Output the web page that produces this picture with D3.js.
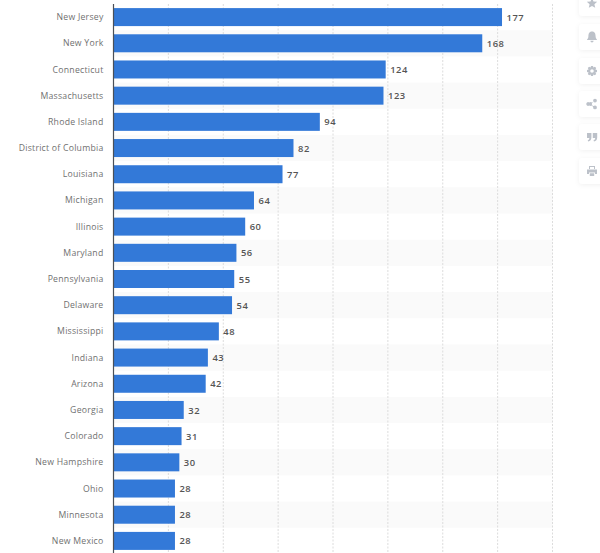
<!DOCTYPE html>
<html>
<head>
<meta charset="utf-8">
<script src="https://cdnjs.cloudflare.com/ajax/libs/d3/7.8.5/d3.min.js"></script>
<style>
  html, body { margin: 0; padding: 0; background: #fff; }
  svg { display: block; font-family: "Open Sans", sans-serif; }
  .label { font-size: 8.7px; fill: #707070; letter-spacing: 0.24px; }
  .value { font-size: 9.4px; font-weight: 600; fill: #555; letter-spacing: 0.55px; }
  .grid line { stroke: #dcdcdc; stroke-dasharray: 2 1.5; stroke-width: 1; }
</style>
</head>
<body>
<div id="chart"></div>
<script>
const states = ["New Jersey", "New York", "Connecticut", "Massachusetts", "Rhode Island",
  "District of Columbia", "Louisiana", "Michigan", "Illinois", "Maryland", "Pennsylvania",
  "Delaware", "Mississippi", "Indiana", "Arizona", "Georgia", "Colorado", "New Hampshire",
  "Ohio", "Minnesota", "New Mexico"];
const values = [177, 168, 124, 123, 94, 82, 77, 64, 60, 56, 55, 54, 48, 43, 42, 32, 31, 30, 28, 28, 28];
const xTicks = [0, 25, 50, 75, 100, 125, 150, 175, 200];

const width = 600, height = 553;
const margin = { top: 4, right: 47.5, bottom: -1, left: 113.5 };

const svg = d3.select("#chart").append("svg")
  .attr("width", width)
  .attr("height", height)
  .attr("viewBox", [0, 0, width, height]);

const x = d3.scaleLinear().domain([0, 200]).range([margin.left, width - margin.right]);
const y = d3.scaleBand().domain(states).range([margin.top, height - margin.bottom]).paddingInner(0).paddingOuter(0);
const barHeight = 18;

// every second row gets a faint stripe
svg.append("g")
  .selectAll("rect")
  .data(states.filter((d, i) => i % 2 === 1))
  .join("rect")
  .attr("x", x(0))
  .attr("y", (d) => y(d))
  .attr("width", x(200) - x(0))
  .attr("height", y.bandwidth())
  .attr("fill", "#fafafa");

svg.append("g")
  .attr("class", "grid")
  .selectAll("line")
  .data(xTicks.slice(1))
  .join("line")
  .attr("x1", (d) => x(d))
  .attr("x2", (d) => x(d))
  .attr("y1", margin.top)
  .attr("y2", height);

svg.append("g")
  .selectAll("rect")
  .data(values)
  .join("rect")
  .attr("x", x(0))
  .attr("y", (d, i) => y(states[i]) + (y.bandwidth() - barHeight) / 2)
  .attr("width", (d) => x(d) - x(0))
  .attr("height", barHeight)
  .attr("fill", "#3379d8");

svg.append("line")
  .attr("x1", x(0))
  .attr("x2", x(0))
  .attr("y1", margin.top)
  .attr("y2", height)
  .attr("stroke", "#4a4f57")
  .attr("stroke-width", 1.2);

svg.append("g")
  .selectAll("text")
  .data(states)
  .join("text")
  .attr("class", "label")
  .attr("x", 103.5)
  .attr("y", (d) => y(d) + y.bandwidth() / 2)
  .attr("dy", "0.35em")
  .attr("text-anchor", "end")
  .text((d) => d);

svg.append("g")
  .selectAll("text")
  .data(values)
  .join("text")
  .attr("class", "value")
  .attr("x", (d) => x(d) + 4.5)
  .attr("y", (d, i) => y(states[i]) + y.bandwidth() / 2)
  .attr("dy", "0.38em")
  .text((d) => d);

// side toolbar, cropped by the window edge
const toolbarTops = [-10, 24, 58, 91, 124, 158];
const icons = [
  "M0-5 1.5-1.6 5.2-1.2 2.4 1.2 3.2 4.8 0 3 -3.2 4.8 -2.4 1.2 -5.2-1.2 -1.5-1.6Z",
  "M0-5.5C-3-5.5-3.6-3-3.6-.5-3.6 1.5-5 2-5 3H5C5 2 3.6 1.5 3.6-.5 3.6-3 3-5.5 0-5.5ZM-1.6 3.8A1.6 1.6 0 0 0 1.6 3.8Z",
  "M-1-5H1L1.4-3.4 2.9-4.2 4.2-2.9 3.4-1.4 5-1V1L3.4 1.4 4.2 2.9 2.9 4.2 1.4 3.4 1 5H-1L-1.4 3.4-2.9 4.2-4.2 2.9-3.4 1.4-5 1V-1L-3.4-1.4-4.2-2.9-2.9-4.2-1.4-3.4ZM0-1.8A1.8 1.8 0 1 0 0 1.8 1.8 1.8 0 1 0 0-1.8Z",
  "M-2.8-1.6A1.9 1.9 0 1 1-2.8 1.6 1.9 1.9 0 1 1-2.8-1.6ZM3-5.3A1.9 1.9 0 1 1 3-1.5 1.9 1.9 0 1 1 3-5.3ZM3 1.5A1.9 1.9 0 1 1 3 5.3 1.9 1.9 0 1 1 3 1.5ZM-2.8-.6 2.8-3.6 3.2-2.9-2.4.1ZM-2.4-.1 3.2 2.9 2.8 3.6-2.8.6Z",
  "M-5-4H-.6V.4C-.6 2.6-1.8 4-3.8 4.4L-4.3 3.2C-3.2 2.9-2.7 2.2-2.6.9H-5ZM.8-4H5.2V.4C5.2 2.6 4 4 2 4.4L1.5 3.2C2.6 2.9 3.1 2.2 3.2.9H.8Z",
  "M-3-5H3V-2H2V-4H-2V-2H-3ZM-5-1.4H5V3H3V1.4H-3V3H-5ZM-2.2 2.2H2.2V5H-2.2Z",
];

svg.append("defs").append("filter")
  .attr("id", "cardShadow")
  .attr("x", "-40%").attr("y", "-40%").attr("width", "180%").attr("height", "180%")
  .append("feDropShadow")
  .attr("dx", 0).attr("dy", 1).attr("stdDeviation", 2.5)
  .attr("flood-color", "#000").attr("flood-opacity", 0.06);

const cards = svg.append("g")
  .selectAll("g")
  .data(toolbarTops)
  .join("g")
  .attr("transform", (d) => `translate(579,${d})`);

cards.append("rect")
  .attr("width", 40)
  .attr("height", 26)
  .attr("rx", 4)
  .attr("fill", "#fff")
  .attr("filter", "url(#cardShadow)");

cards.append("path")
  .attr("transform", "translate(13,13)")
  .attr("d", (d, i) => icons[i])
  .attr("fill", "#bcc1c9");
</script>
</body>
</html>
